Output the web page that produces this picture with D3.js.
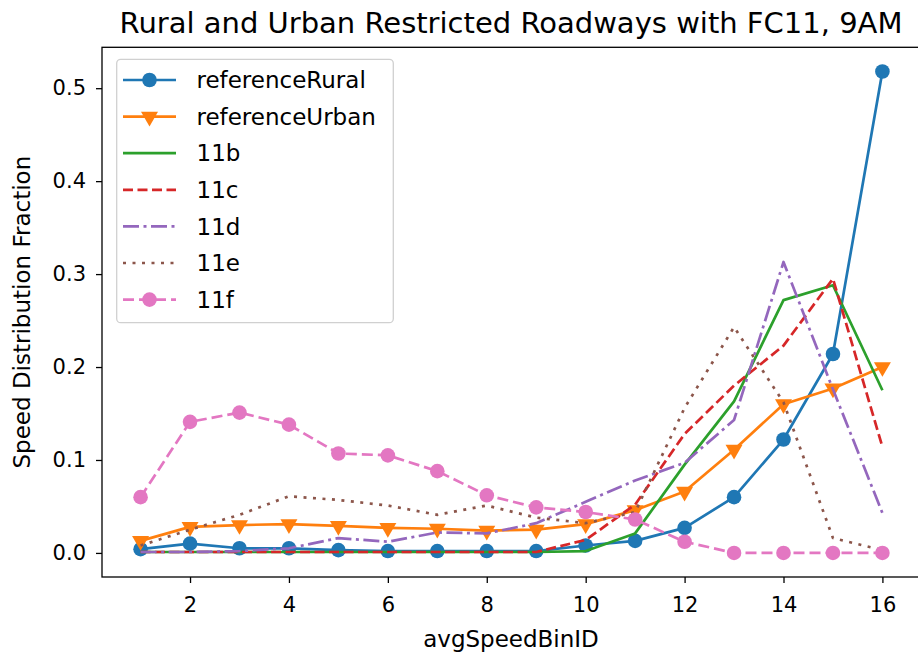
<!DOCTYPE html>
<html>
<head>
<meta charset="utf-8">
<script src="https://cdn.jsdelivr.net/npm/d3@7"></script>
<style>
  html, body { margin: 0; padding: 0; background: #fff; }
  svg { display: block; font-family: "DejaVu Sans", sans-serif; }
</style>
</head>
<body>
<svg id="chart" width="918" height="657"></svg>
<script>
// Speed bin IDs on the x axis
const speedBins = [1, 2, 3, 4, 5, 6, 7, 8, 9, 10, 11, 12, 13, 14, 15, 16];

// Speed distribution fraction per bin, one array per scenario
const referenceRural = [0.004, 0.010, 0.005, 0.005, 0.003, 0.002, 0.002, 0.002, 0.002, 0.008, 0.013, 0.027, 0.060, 0.122, 0.214, 0.518];
const referenceUrban = [0.013, 0.028, 0.030, 0.031, 0.029, 0.027, 0.026, 0.024, 0.025, 0.031, 0.046, 0.066, 0.111, 0.160, 0.177, 0.200];
const s11b = [0.001, 0.001, 0.001, 0.001, 0.001, 0.001, 0.001, 0.001, 0.001, 0.002, 0.021, 0.095, 0.163, 0.272, 0.288, 0.175];
const s11c = [0.001, 0.001, 0.001, 0.001, 0.001, 0.001, 0.001, 0.001, 0.001, 0.014, 0.052, 0.128, 0.180, 0.223, 0.295, 0.114];
const s11d = [0.001, 0.001, 0.002, 0.005, 0.016, 0.012, 0.022, 0.021, 0.032, 0.055, 0.078, 0.097, 0.143, 0.313, 0.176, 0.043];
const s11e = [0.008, 0.025, 0.041, 0.061, 0.057, 0.051, 0.041, 0.051, 0.038, 0.032, 0.044, 0.156, 0.243, 0.162, 0.016, 0.003];
const s11f = [0.060, 0.141, 0.151, 0.138, 0.107, 0.105, 0.088, 0.062, 0.049, 0.044, 0.036, 0.012, 0.000, 0.000, 0.000, 0.000];

const seriesNames = ["referenceRural", "referenceUrban", "11b", "11c", "11d", "11e", "11f"];
const seriesValues = [referenceRural, referenceUrban, s11b, s11c, s11d, s11e, s11f];

const xTicks = [2, 4, 6, 8, 10, 12, 14, 16];
const yTicks = [0.0, 0.1, 0.2, 0.3, 0.4, 0.5];

const titleText = "Rural and Urban Restricted Roadways with FC11, 9AM";
const xLabel = "avgSpeedBinID";
const yLabel = "Speed Distribution Fraction";

// Per-series styling (tab10 palette, matplotlib-like dashes and markers)
const styles = [
  { color: "#1f77b4", dash: null,            marker: "circle" },
  { color: "#ff7f0e", dash: null,            marker: "triangleDown" },
  { color: "#2ca02c", dash: null,            marker: null },
  { color: "#d62728", dash: "10,4.5",        marker: null },
  { color: "#9467bd", dash: "16,4.5,3,4.5",  marker: null },
  { color: "#8c564b", dash: "3,6.5",         marker: null },
  { color: "#e377c2", dash: "11,5",          marker: "circle" }
];

const svg = d3.select("#chart");
const plot = { left: 102, right: 920, top: 47.3, bottom: 577 };

const x = d3.scaleLinear().domain([0.22, 16.76]).range([plot.left, plot.right]);
const y = d3.scaleLinear().domain([-0.0259, 0.544]).range([plot.bottom, plot.top]);

const lineWidth = 2.7;
const markerR = 7.3;

// Series lines and markers
const lineGen = d3.line().x((d, i) => x(speedBins[i])).y(d => y(d));
const symTri = d3.symbol().type(d3.symbolTriangle).size(125);

function drawMarker(g, kind, cx, cy, color) {
  if (kind === "circle") {
    g.append("circle").attr("cx", cx).attr("cy", cy).attr("r", markerR).attr("fill", color);
  } else if (kind === "triangleDown") {
    g.append("path").attr("d", symTri())
      .attr("transform", `translate(${cx},${cy}) rotate(180)`)
      .attr("fill", color);
  }
}

seriesValues.forEach((vals, k) => {
  const st = styles[k];
  const g = svg.append("g").attr("class", "series");
  g.append("path")
    .attr("d", lineGen(vals))
    .attr("fill", "none")
    .attr("stroke", st.color)
    .attr("stroke-width", lineWidth)
    .attr("stroke-linejoin", "round")
    .attr("stroke-dasharray", st.dash);
  if (st.marker) {
    vals.forEach((v, i) => drawMarker(g, st.marker, x(speedBins[i]), y(v), st.color));
  }
});

// Axes frame
const frame = svg.append("g");
frame.append("rect")
  .attr("x", plot.left).attr("y", plot.top)
  .attr("width", plot.right - plot.left).attr("height", plot.bottom - plot.top)
  .attr("fill", "none").attr("stroke", "#000").attr("stroke-width", 1.3);

// X axis
const xAxis = d3.axisBottom(x).tickValues(xTicks).tickSize(6).tickPadding(14).tickFormat(d3.format("d"));
const gx = svg.append("g").attr("transform", `translate(0,${plot.bottom})`).call(xAxis);
gx.select(".domain").remove();
gx.selectAll(".tick line").attr("stroke", "#000").attr("stroke-width", 1.3);
gx.selectAll(".tick text").attr("fill", "#000").attr("font-size", 21).attr("font-family", "DejaVu Sans");

// Y axis
const yAxis = d3.axisLeft(y).tickValues(yTicks).tickSize(6).tickPadding(10).tickFormat(d3.format(".1f"));
const gy = svg.append("g").attr("transform", `translate(${plot.left},0)`).call(yAxis);
gy.select(".domain").remove();
gy.selectAll(".tick line").attr("stroke", "#000").attr("stroke-width", 1.3);
gy.selectAll(".tick text").attr("fill", "#000").attr("font-size", 21).attr("font-family", "DejaVu Sans");

// Title and axis labels
svg.append("text")
  .attr("x", (plot.left + plot.right) / 2).attr("y", 33)
  .attr("text-anchor", "middle").attr("font-size", 29).attr("fill", "#000")
  .text(titleText);

svg.append("text")
  .attr("x", (plot.left + plot.right) / 2).attr("y", 647)
  .attr("text-anchor", "middle").attr("font-size", 23).attr("fill", "#000")
  .text(xLabel);

svg.append("text")
  .attr("transform", `translate(30,${(plot.top + plot.bottom) / 2}) rotate(-90)`)
  .attr("text-anchor", "middle").attr("font-size", 23).attr("fill", "#000")
  .text(yLabel);

// Legend
const legend = svg.append("g").attr("class", "legend");
legend.append("rect")
  .attr("x", 116.7).attr("y", 59.3).attr("width", 276.6).attr("height", 263.4)
  .attr("rx", 4).attr("fill", "#fff").attr("fill-opacity", 0.8)
  .attr("stroke", "#d0d0d0").attr("stroke-width", 1.3);

seriesNames.forEach((name, k) => {
  const st = styles[k];
  const cy = 80 + k * 36.6;
  legend.append("line")
    .attr("x1", 123).attr("x2", 176).attr("y1", cy).attr("y2", cy)
    .attr("stroke", st.color).attr("stroke-width", lineWidth)
    .attr("stroke-dasharray", st.dash);
  if (st.marker) drawMarker(legend, st.marker, 149.5, cy, st.color);
  legend.append("text")
    .attr("x", 196.5).attr("y", cy).attr("dy", "0.36em")
    .attr("font-size", 23).attr("fill", "#000")
    .text(name);
});
</script>
</body>
</html>
